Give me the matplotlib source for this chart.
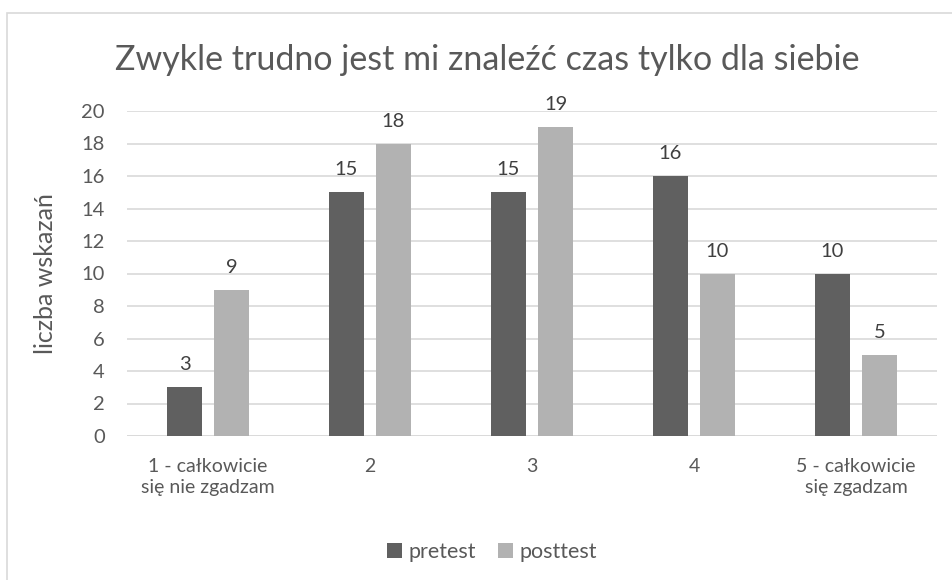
import matplotlib
matplotlib.use("Agg")
import matplotlib.pyplot as plt
import numpy as np
from matplotlib.patches import Rectangle

categories = ['1 - całkowicie\nsię nie zgadzam', '2', '3', '4', '5 - całkowicie\nsię zgadzam']
pretest = [3, 15, 15, 16, 10]
posttest = [9, 18, 19, 10, 5]
title = 'Zwykle trudno jest mi znaleźć czas tylko dla siebie'
y_label = 'liczba wskazań'

txt = '#595959'
plt.rcParams['font.family'] = ['Lato', 'DejaVu Sans']

fig = plt.figure(figsize=(9.53, 5.8), dpi=100)
ax = fig.add_axes([127/953, 1 - 436/580, 810/953, 325/580])

x = np.arange(len(categories))
w = 0.222
gap = 0.068
b1 = ax.bar(x - (w + gap)/2, pretest, w, color='#606060', label='pretest', zorder=3)
b2 = ax.bar(x + (w + gap)/2, posttest, w, color='#b2b2b2', label='posttest', zorder=3)
for bars in (b1, b2):
    ax.bar_label(bars, padding=10, fontsize=14.5, color='#404040')

ax.set_xlim(-0.5, 4.5)
ax.set_ylim(0, 20)
ax.set_yticks(range(0, 21, 2))
ax.set_xticks(x)
ax.set_xticklabels(categories, fontsize=14, color=txt, linespacing=1.25)
ax.tick_params(axis='y', labelsize=14.5, labelcolor=txt, length=0, pad=16)
ax.tick_params(axis='x', length=0, pad=16)
ax.grid(axis='y', color='#d9d9d9', linewidth=1.2, zorder=0)
for s in ax.spines.values():
    s.set_visible(False)
ax.axhline(0, color='#d9d9d9', linewidth=1.2, zorder=1)
ax.set_ylabel(y_label, fontsize=18, color=txt)
ax.yaxis.set_label_coords(-0.0864, 0.5)

fig.text(487/953, 1 - 60/580, title, ha='center', va='center', fontsize=24.5, color=txt)
fig.legend(loc='center', bbox_to_anchor=(492/953, 1 - 552/580), ncol=2, frameon=False,
           fontsize=15.5, labelcolor=txt, handlelength=0.7, handleheight=0.7,
           handletextpad=0.3, columnspacing=1.0)

fig.patches.append(Rectangle((7/953, -0.1), 1.2, 1 - 13/580 + 0.1, transform=fig.transFigure,
                             fill=False, edgecolor='#d9d9d9', linewidth=1.2))

fig.savefig('out.png', dpi=100)
